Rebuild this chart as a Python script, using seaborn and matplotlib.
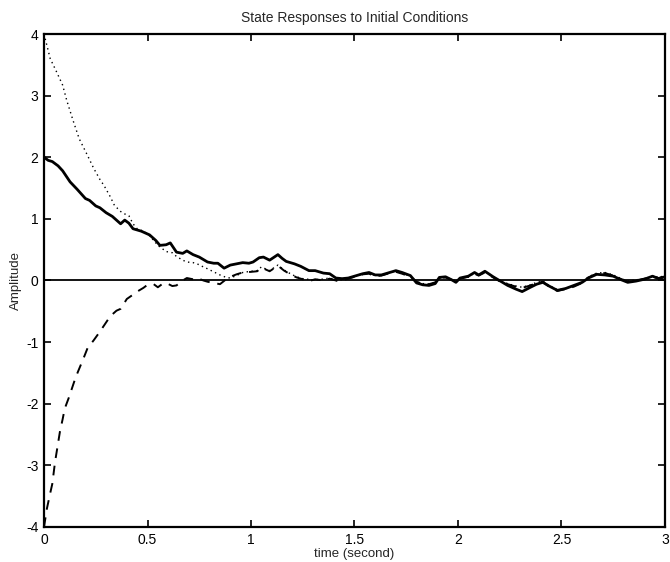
import numpy as np
import pandas as pd
import seaborn as sns
import matplotlib.pyplot as plt

# --- Data ---
TIME_X1 = [0, 0.02, 0.04, 0.068, 0.09, 0.11, 0.126, 0.16, 0.2, 0.22, 0.25, 0.27, 0.3, 0.33,
           0.37, 0.39, 0.41, 0.43, 0.47, 0.51, 0.54, 0.56, 0.59, 0.61, 0.64, 0.67, 0.69, 0.72,
           0.75, 0.79, 0.82, 0.84, 0.87, 0.9, 0.93, 0.96, 0.99, 1.01, 1.04, 1.06, 1.09, 1.13,
           1.15, 1.17, 1.21, 1.24, 1.28, 1.31, 1.35, 1.38, 1.41, 1.44, 1.47, 1.5, 1.54, 1.57,
           1.6, 1.63, 1.67, 1.7, 1.73, 1.77, 1.8, 1.83, 1.86, 1.89, 1.91, 1.94, 1.97, 1.99,
           2.01, 2.05, 2.08, 2.1, 2.13, 2.17, 2.2, 2.24, 2.28, 2.31, 2.35, 2.38, 2.41, 2.44,
           2.48, 2.52, 2.56, 2.6, 2.63, 2.67, 2.71, 2.75, 2.79, 2.82, 2.86, 2.9, 2.94, 2.97, 3.0]
X1 = [2.0, 1.95, 1.93, 1.86, 1.78, 1.68, 1.60, 1.48, 1.33, 1.30, 1.21, 1.18, 1.10, 1.04,
      0.92, 0.98, 0.93, 0.84, 0.80, 0.74, 0.65, 0.57, 0.58, 0.61, 0.46, 0.44, 0.48, 0.42,
      0.38, 0.30, 0.28, 0.28, 0.20, 0.25, 0.27, 0.29, 0.28, 0.30, 0.37, 0.38, 0.33, 0.42,
      0.36, 0.31, 0.27, 0.23, 0.16, 0.16, 0.12, 0.11, 0.04, 0.03, 0.04, 0.07, 0.11, 0.13,
      0.09, 0.09, 0.13, 0.16, 0.13, 0.08, -0.04, -0.07, -0.08, -0.05, 0.05, 0.06, 0.01, -0.03,
      0.04, 0.07, 0.13, 0.09, 0.15, 0.06, 0.0, -0.08, -0.14, -0.18, -0.11, -0.06, -0.03, -0.09,
      -0.16, -0.13, -0.08, -0.03, 0.04, 0.10, 0.09, 0.07, 0.01, -0.03, -0.01, 0.02, 0.07, 0.03, 0.06]

TIME_X2 = [0, 0.015, 0.03, 0.06, 0.09, 0.11, 0.14, 0.17, 0.21, 0.24, 0.27, 0.29, 0.32, 0.34,
           0.37, 0.39, 0.41, 0.43, 0.45, 0.48, 0.5, 0.53, 0.55, 0.59, 0.62, 0.64, 0.67, 0.69,
           0.72, 0.74, 0.77, 0.79, 0.82, 0.85, 0.88, 0.9, 0.93, 0.96, 1.0, 1.03, 1.05, 1.09,
           1.13, 1.16, 1.19, 1.22, 1.25, 1.3, 1.34, 1.38, 1.42, 1.46, 1.5, 1.54, 1.57, 1.6,
           1.63, 1.67, 1.7, 1.73, 1.77, 1.8, 1.83, 1.86, 1.89, 1.91, 1.94, 1.97, 1.99, 2.01,
           2.05, 2.08, 2.1, 2.13, 2.17, 2.2, 2.24, 2.28, 2.31, 2.35, 2.38, 2.41, 2.44, 2.48,
           2.52, 2.56, 2.6, 2.63, 2.67, 2.71, 2.75, 2.79, 2.82, 2.86, 2.9, 2.94, 2.97, 3.0]
X2 = [4.0, 3.8, 3.6, 3.39, 3.17, 2.92, 2.6, 2.3, 2.03, 1.82, 1.64, 1.54, 1.36, 1.22,
      1.12, 1.08, 1.05, 0.92, 0.84, 0.80, 0.76, 0.65, 0.57, 0.47, 0.45, 0.39, 0.33, 0.30,
      0.29, 0.27, 0.22, 0.19, 0.14, 0.09, 0.05, 0.04, 0.08, 0.13, 0.15, 0.16, 0.22, 0.16,
      0.25, 0.17, 0.11, 0.06, 0.03, 0.01, 0.02, 0.04, 0.0, 0.03, 0.07, 0.11, 0.12, 0.08,
      0.08, 0.13, 0.15, 0.12, 0.07, -0.02, -0.05, -0.06, -0.04, 0.04, 0.05, 0.02, -0.01, 0.03,
      0.06, 0.12, 0.09, 0.14, 0.06, 0.0, -0.05, -0.09, -0.11, -0.07, -0.03, -0.01, -0.08, -0.15,
      -0.13, -0.09, -0.03, 0.06, 0.12, 0.13, 0.09, 0.03, -0.01, 0.01, 0.03, 0.07, 0.05, 0.08]

TIME_X3 = [0, 0.014, 0.03, 0.04, 0.053, 0.065, 0.077, 0.09, 0.1, 0.12, 0.135, 0.15, 0.164,
           0.19, 0.21, 0.24, 0.27, 0.3, 0.32, 0.35, 0.37, 0.4, 0.43, 0.45, 0.48, 0.5, 0.53,
           0.55, 0.57, 0.59, 0.62, 0.64, 0.67, 0.69, 0.72, 0.74, 0.77, 0.79, 0.82, 0.85, 0.88,
           0.9, 0.93, 0.96, 1.0, 1.03, 1.05, 1.09, 1.13, 1.16, 1.19, 1.22, 1.25, 1.28, 1.31,
           1.35, 1.38, 1.42, 1.46, 1.5, 1.54, 1.57, 1.6, 1.63, 1.67, 1.7, 1.73, 1.77, 1.8,
           1.83, 1.86, 1.89, 1.91, 1.94, 1.97, 1.99, 2.01, 2.05, 2.08, 2.1, 2.13, 2.17, 2.2,
           2.24, 2.28, 2.31, 2.35, 2.38, 2.41, 2.44, 2.48, 2.52, 2.56, 2.6, 2.63, 2.67, 2.71,
           2.75, 2.79, 2.82, 2.86, 2.9, 2.94, 2.97, 3.0]
X3 = [-4.0, -3.7, -3.45, -3.3, -2.95, -2.7, -2.45, -2.25, -2.08, -1.9, -1.75, -1.6, -1.48,
      -1.27, -1.1, -0.97, -0.83, -0.68, -0.58, -0.49, -0.46, -0.3, -0.23, -0.18, -0.12, -0.07, -0.06,
      -0.11, -0.06, -0.04, -0.09, -0.08, 0.0, 0.04, 0.02, 0.04, 0.0, -0.02, -0.04, -0.06, 0.02,
      0.06, 0.1, 0.13, 0.14, 0.15, 0.21, 0.15, 0.24, 0.16, 0.1, 0.05, 0.02, -0.01, 0.02,
      0.0, 0.03, -0.01, 0.02, 0.06, 0.1, 0.11, 0.07, 0.08, 0.12, 0.14, 0.11, 0.06, -0.02,
      -0.06, -0.06, -0.03, 0.04, 0.05, 0.01, -0.01, 0.03, 0.06, 0.11, 0.08, 0.13, 0.05, -0.01,
      -0.06, -0.1, -0.12, -0.08, -0.04, -0.02, -0.1, -0.17, -0.14, -0.1, -0.04, 0.05, 0.11, 0.12,
      0.08, 0.02, -0.02, 0.0, 0.03, 0.06, 0.04, 0.07]

X_TICKS = [0, 0.5, 1, 1.5, 2, 2.5, 3]
X_TICK_LABELS = ["0", "0.5", "1", "1.5", "2", "2.5", "3"]
Y_TICKS = [-4, -3, -2, -1, 0, 1, 2, 3, 4]

TITLE = "State Responses to Initial Conditions"
X_LABEL = "time (second)"
Y_LABEL = "Amplitude"

# --- Style ---
sns.set_style("ticks")
plt.rcParams['font.family'] = ['Liberation Sans', 'DejaVu Sans']
plt.rcParams['axes.unicode_minus'] = False

fig = plt.figure(figsize=(6.7, 5.62), dpi=100)
ax = fig.add_axes([0.0657, 0.0623, 0.9268, 0.8772])

sns.lineplot(x=TIME_X1, y=X1, ax=ax, color="black", linewidth=2.0,
             estimator=None, sort=False)
sns.lineplot(x=TIME_X2, y=X2, ax=ax, color="black", linewidth=1.0,
             linestyle=(0, (1, 2.5)), estimator=None, sort=False)
sns.lineplot(x=TIME_X3, y=X3, ax=ax, color="black", linewidth=1.4,
             linestyle=(0, (5, 4)), estimator=None, sort=False)
ax.axhline(0, color="black", linewidth=1.3)

ax.set_xlim(0, 3)
ax.set_ylim(-4, 4)
ax.set_xticks(X_TICKS)
ax.set_xticklabels(X_TICK_LABELS)
ax.set_yticks(Y_TICKS)
ax.tick_params(direction="in", length=5, width=1.2, top=True, right=True,
               labelsize=10, pad=4, colors="black")
for side in ax.spines.values():
    side.set_linewidth(1.6)
    side.set_color("black")

ax.set_title(TITLE, fontsize=10, pad=9)
ax.set_xlabel(X_LABEL, fontsize=9.5, labelpad=1)
ax.set_ylabel(Y_LABEL, fontsize=9.5, labelpad=3)

fig.savefig("out.png", dpi=100)
